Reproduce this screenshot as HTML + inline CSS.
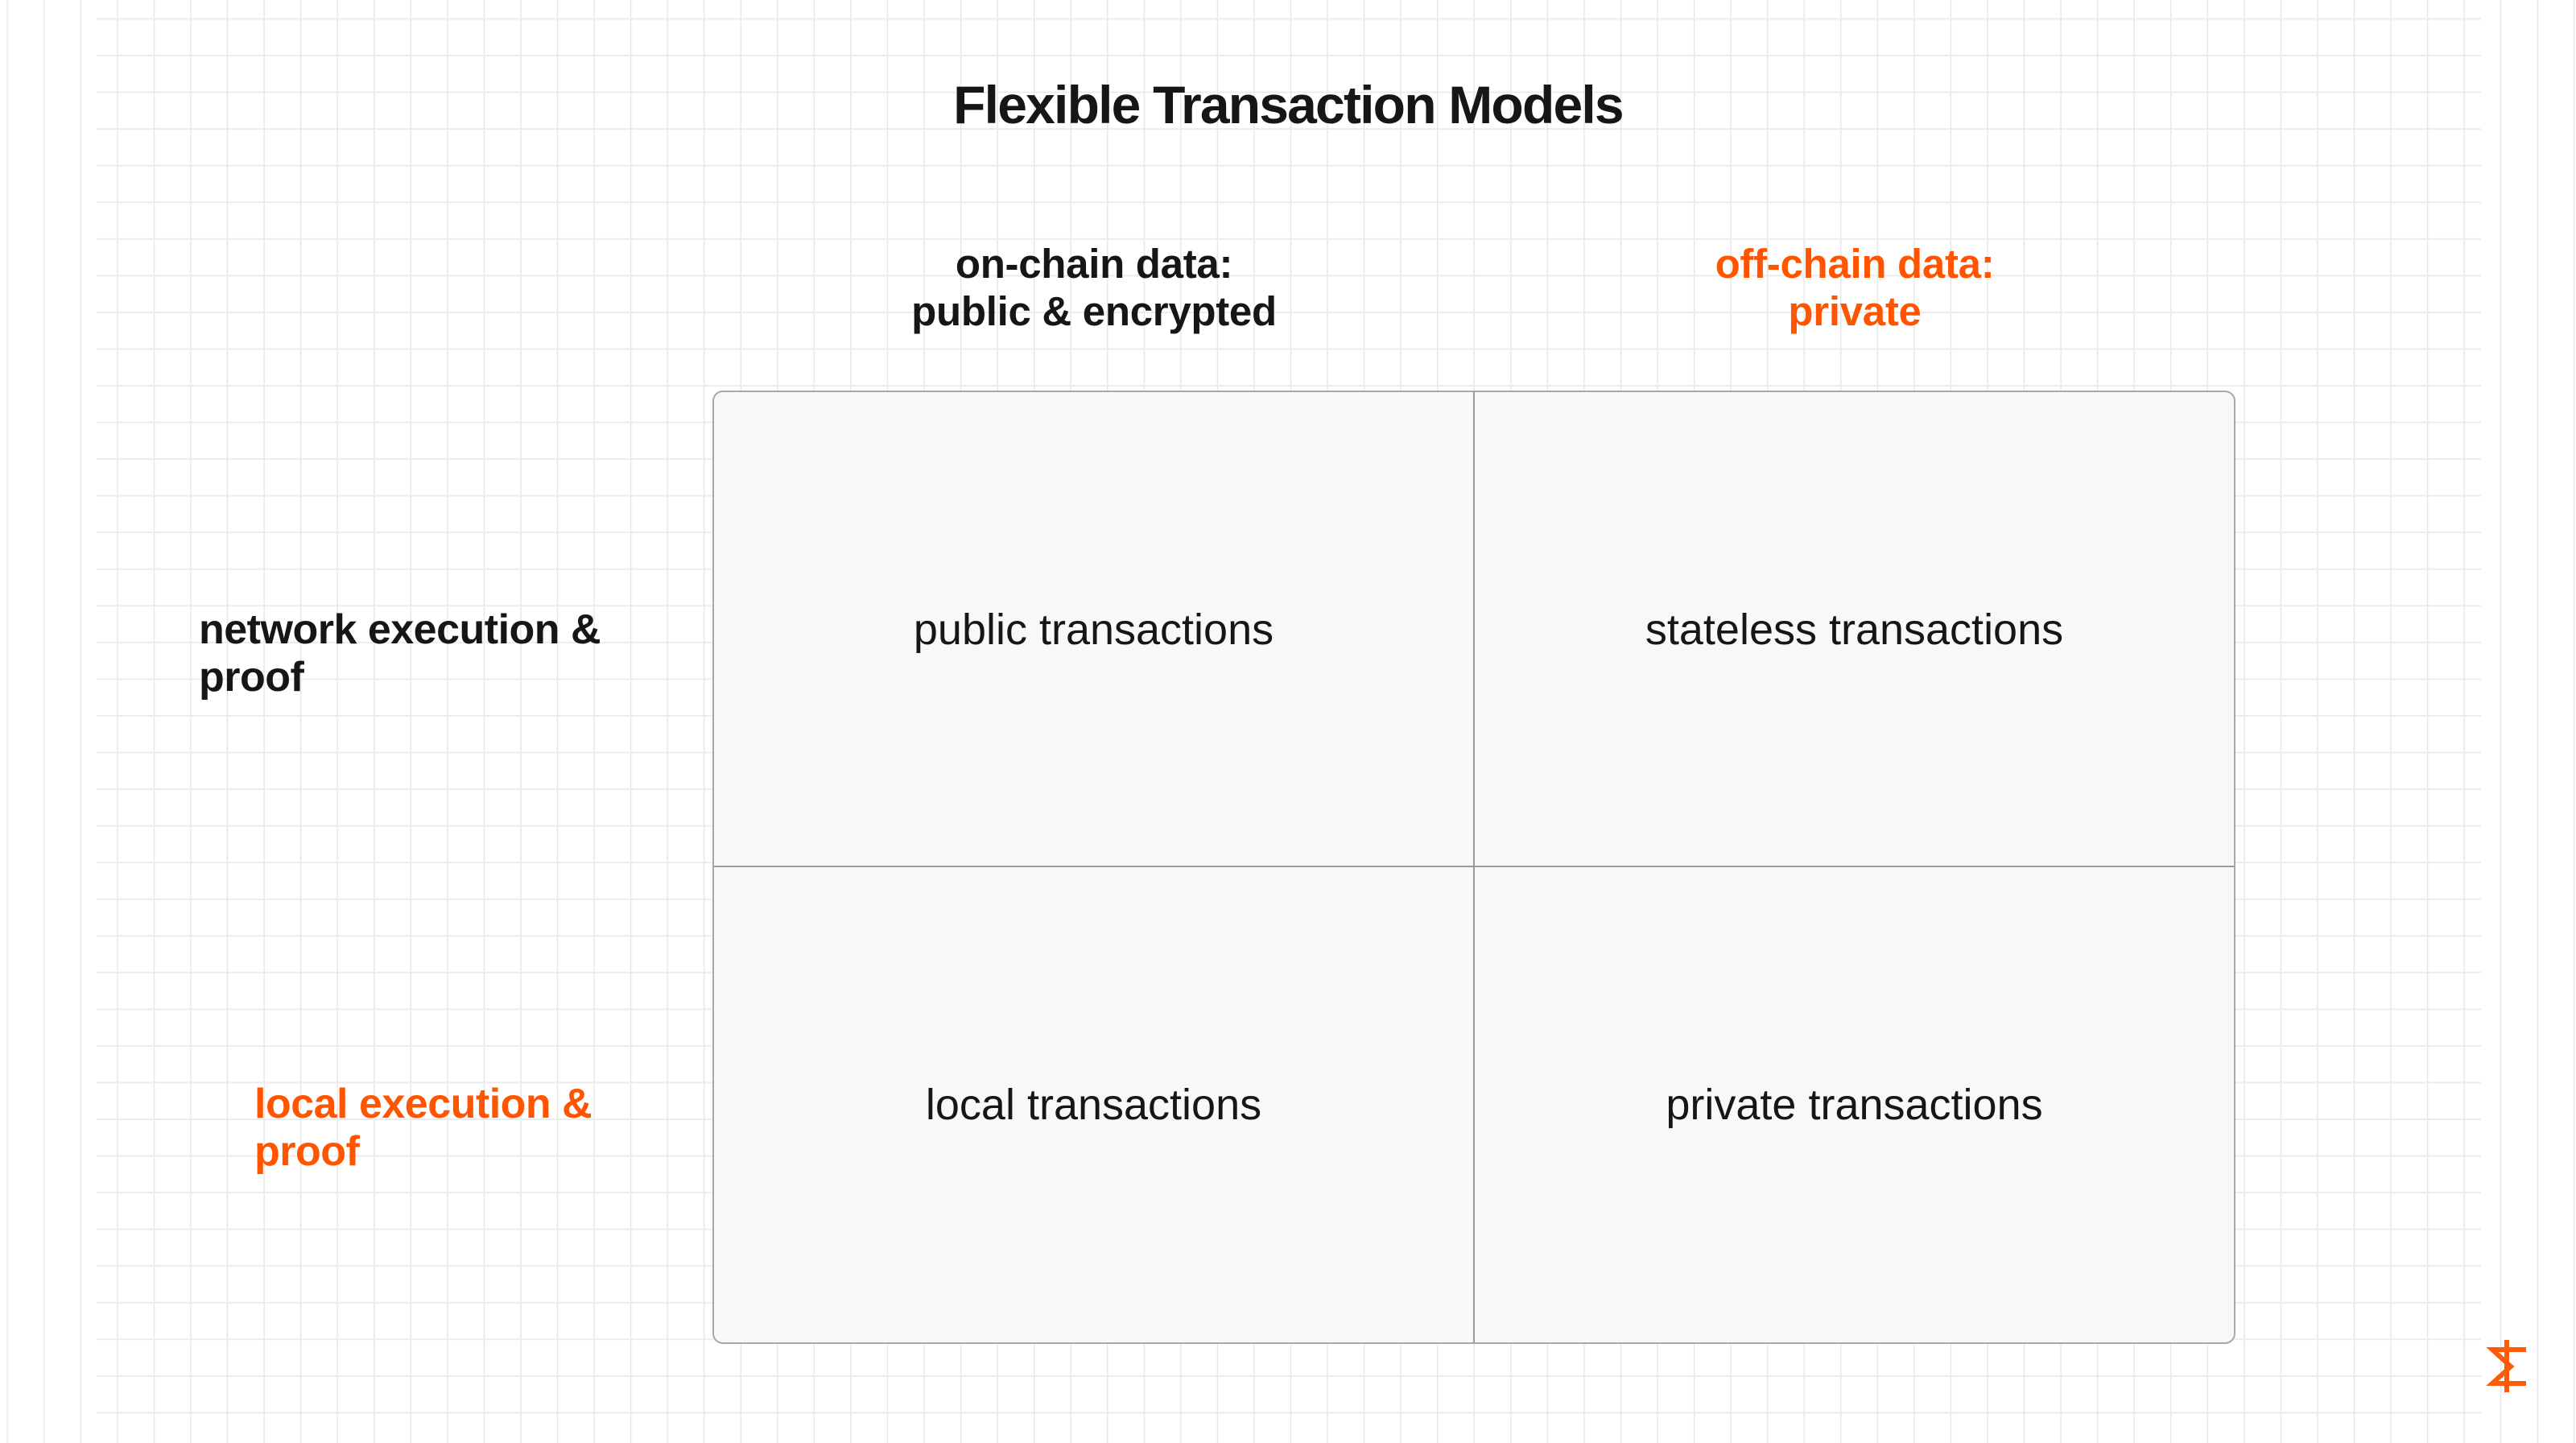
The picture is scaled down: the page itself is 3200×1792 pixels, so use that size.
<!DOCTYPE html>
<html><head><meta charset="utf-8"><style>
html,body{margin:0;padding:0;width:3200px;height:1792px;overflow:hidden;background:#fff;font-family:"Liberation Sans",sans-serif;}
.abs{position:absolute;}
.t{white-space:nowrap;}
</style></head><body>
<svg class="abs" style="left:0;top:0" width="3200" height="1792">
  <defs>
    <pattern id="v" x="8.6" y="0" width="45.55" height="1792" patternUnits="userSpaceOnUse">
      <rect x="0" y="0" width="1.3" height="1792" fill="#e4e4e6"/>
    </pattern>
    <pattern id="h" x="0" y="22.5" width="3200" height="45.55" patternUnits="userSpaceOnUse">
      <rect x="0" y="0" width="3200" height="2" fill="#ececec"/>
    </pattern>
  </defs>
  <rect x="0" y="0" width="3200" height="1792" fill="url(#v)"/>
  <rect x="120" y="0" width="2962" height="1792" fill="url(#h)"/>
  <rect x="886" y="486" width="1890" height="1182" rx="12" ry="12" fill="#f9f8f8" stroke="#a9a9a9" stroke-width="2"/>
  <line x1="1831" y1="486" x2="1831" y2="1668" stroke="#9a9a9a" stroke-width="2"/>
  <line x1="886" y1="1076" x2="2776" y2="1076" stroke="#9a9a9a" stroke-width="2"/>
  <g fill="none" stroke="#ff5a0a" stroke-width="6">
    <path d="M3135 1679 L3135 1676 L3096 1676 L3119 1697 L3096 1718 L3135 1718 L3135 1715"/>
    <line x1="3114" y1="1664" x2="3114" y2="1729"/>
  </g>
</svg>

<div class="abs t" style="left:0;width:3200px;top:92px;text-align:center;font-size:66px;font-weight:bold;letter-spacing:-1.8px;color:#161616;">Flexible Transaction Models</div>

<div class="abs t" style="left:1059px;width:600px;top:298px;text-align:center;font-size:51px;line-height:59px;font-weight:bold;color:#161616;letter-spacing:-0.3px;">on-chain data:<br>public &amp; encrypted</div>
<div class="abs t" style="left:2004px;width:600px;top:298px;text-align:center;font-size:51px;line-height:59px;font-weight:bold;color:#ff5500;letter-spacing:-0.3px;">off-chain data:<br>private</div>

<div class="abs t" style="left:247px;top:753px;font-size:52px;line-height:59px;font-weight:bold;color:#161616;letter-spacing:-0.5px;">network execution &amp;<br>proof</div>
<div class="abs t" style="left:316px;top:1342px;font-size:52px;line-height:59px;font-weight:bold;color:#ff5500;letter-spacing:-0.5px;">local execution &amp;<br>proof</div>

<div class="abs t" style="left:886px;width:945px;top:751px;text-align:center;font-size:54px;line-height:62px;color:#161616;">public transactions</div>
<div class="abs t" style="left:1831px;width:945px;top:751px;text-align:center;font-size:54px;line-height:62px;color:#161616;">stateless transactions</div>
<div class="abs t" style="left:886px;width:945px;top:1341px;text-align:center;font-size:54px;line-height:62px;color:#161616;">local transactions</div>
<div class="abs t" style="left:1831px;width:945px;top:1341px;text-align:center;font-size:54px;line-height:62px;color:#161616;">private transactions</div>
</body></html>
